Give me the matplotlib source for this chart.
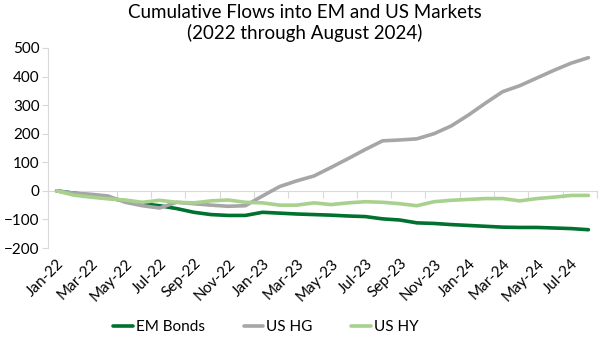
import numpy as np
import matplotlib
matplotlib.use("Agg")
from matplotlib import pyplot as plt

# monthly categories Jan-22 .. Aug-24
months = ["Jan-22", "Feb-22", "Mar-22", "Apr-22", "May-22", "Jun-22", "Jul-22", "Aug-22",
          "Sep-22", "Oct-22", "Nov-22", "Dec-22", "Jan-23", "Feb-23", "Mar-23", "Apr-23",
          "May-23", "Jun-23", "Jul-23", "Aug-23", "Sep-23", "Oct-23", "Nov-23", "Dec-23",
          "Jan-24", "Feb-24", "Mar-24", "Apr-24", "May-24", "Jun-24", "Jul-24", "Aug-24"]

em_bonds = [0, -8, -15, -25, -35, -45, -52, -62, -75, -83, -86, -86,
            -75, -78, -81, -83, -85, -88, -90, -98, -102, -112, -114, -118,
            -121, -124, -127, -128, -128, -130, -132, -136]
us_hg = [0, -8, -12, -18, -40, -52, -60, -40, -45, -50, -54, -52,
         -18, 15, 35, 52, 82, 113, 145, 175, 178, 182, 200, 227,
         265, 307, 347, 368, 395, 422, 447, 466]
us_hy = [0, -15, -22, -28, -32, -40, -33, -40, -42, -35, -32, -40,
         -42, -50, -50, -42, -48, -42, -38, -40, -45, -52, -38, -33,
         -30, -27, -27, -35, -27, -22, -16, -16]

series_names = ["EM Bonds", "US HG", "US HY"]
colors = ["#00712f", "#a6a6a6", "#a9d18e"]

plt.rcParams['font.family'] = ['Lato', 'DejaVu Sans']

fig = plt.figure(figsize=(6.1, 3.51), dpi=100)
ax = fig.add_axes([0.0787, 0.2934, 0.9, 0.57])

x = np.arange(len(months))
for vals, name, c in zip([em_bonds, us_hg, us_hy], series_names, colors):
    ax.plot(x, vals, color=c, lw=2.6, label=name, solid_capstyle='round')

ax.set_xlim(-0.5, len(months) - 0.5)
ax.set_ylim(-200, 500)
ax.set_yticks(range(-200, 501, 100))
ax.tick_params(axis='y', labelsize=11, length=4, color='#d9d9d9', pad=2)

# category labels every other month
ax.set_xticks(x[::2])
ax.set_xticklabels(months[::2], rotation=45, ha='right', rotation_mode='anchor', fontsize=11)
ax.tick_params(axis='x', length=0, pad=6)

for s in ['top', 'right', 'bottom']:
    ax.spines[s].set_visible(False)
ax.spines['left'].set_color('#d9d9d9')

# zero line with tick marks between category pairs
sec = ax.secondary_xaxis(2 / 7)
sec.set_xticks(np.arange(-0.5, len(months), 2))
sec.set_xticklabels([])
sec.tick_params(length=5, color='#d9d9d9')
sec.spines['bottom'].set_color('#d9d9d9')

fig.text(0.5, 0.965, "Cumulative Flows into EM and US Markets", ha='center', va='center', fontsize=13.5)
fig.text(0.5, 0.905, "(2022 through August 2024)", ha='center', va='center', fontsize=13.5)

fig.legend(loc='center', bbox_to_anchor=(0.436, 0.068), ncol=3, frameon=False, fontsize=11,
           handlelength=1.3, columnspacing=2.5, handletextpad=0.2)

fig.savefig("out.png", dpi=100)
